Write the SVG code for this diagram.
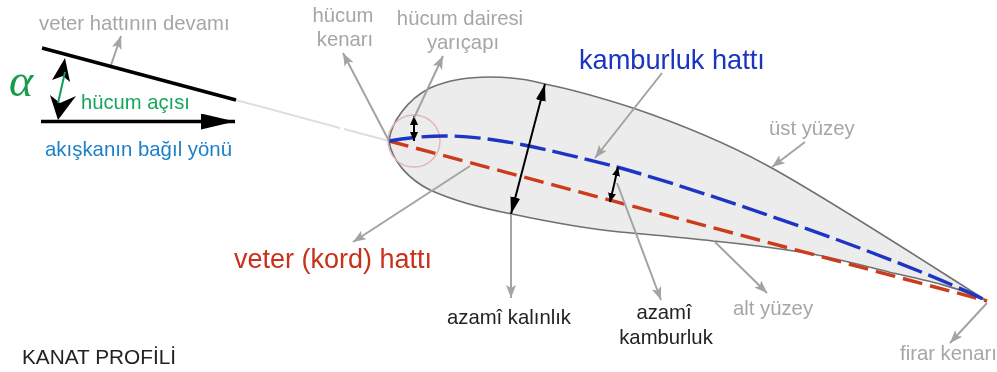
<svg xmlns="http://www.w3.org/2000/svg" width="997" height="372" viewBox="0 0 997 372">
<style>
text{font-family:"Liberation Sans",Arial,sans-serif}
.g{fill:#a6a6a6;font-size:20.3px}
.k{fill:#222;font-size:20.3px}
.m{text-anchor:middle}
.lead{fill:none;stroke:#a3a3a3;stroke-width:2}
.blk{fill:none;stroke:#000;stroke-width:2}
.red{fill:none;stroke:#cc3a1c;stroke-width:3.4;stroke-dasharray:20 8}
.blue{fill:none;stroke:#1c35c4;stroke-width:3.4;stroke-dasharray:26 7}
</style>
<defs>
<marker id="ga" markerUnits="userSpaceOnUse" markerWidth="14" markerHeight="12" refX="13" refY="5" orient="auto"><path d="M0 0L13 5L0 10L3 5Z" fill="#a3a3a3"/></marker>
<marker id="ka" markerUnits="userSpaceOnUse" markerWidth="18" markerHeight="12" refX="17" refY="5" orient="auto"><path d="M0 0L17 5L0 10Z" fill="#000"/></marker>
<marker id="kb" markerUnits="userSpaceOnUse" markerWidth="36" markerHeight="20" refX="34" refY="8" orient="auto"><path d="M0 0L34 8L0 16Z" fill="#000"/></marker>
<marker id="ks" markerUnits="userSpaceOnUse" markerWidth="10" markerHeight="10" refX="9" refY="4" orient="auto"><path d="M0 0L9 4L0 8Z" fill="#000"/></marker>
<filter id="soft" x="0" y="0" width="100%" height="100%"><feGaussianBlur stdDeviation="0.55"/></filter>
</defs>
<g filter="url(#soft)">
<g id="profile">
<path d="M389 141C391 122 408 99 430 88C450 79 470 77 490 77C510 77 530 80 545 84C575 90 605 99 633 108C680 124 725 142 770 167C830 200 930 265 987 301C960 288 930 281 893 273C865 266 835 258 807 253C775 248 745 244 713 241C680 237 650 235 620 232C580 228 545 221 512 214C480 208 450 199 430 190C410 180 392 162 389 141Z" fill="#ececec" stroke="#707070" stroke-width="1.6"/>
<circle cx="414" cy="141" r="26" fill="none" stroke="#e3b5b5" stroke-width="1.4"/>
</g>
<g id="connectors">
<path d="M236 100L340 128M344 129L389 141" fill="none" stroke="#dedede" stroke-width="2"/>
<path class="red" d="M389 141L987 301"/>
<path class="blue" d="M389 141C405 138 425 136 445 136C500 136 560 153 617 167C700 190 900 258 987 301"/>
<path class="blk" marker-end="url(#ka)" d="M528 149L545 84"/>
<path class="blk" marker-end="url(#ka)" d="M528 149L511 214"/>
<path class="blk" marker-end="url(#ks)" d="M414 128L414 116"/>
<path class="blk" marker-end="url(#ks)" d="M414 128L414 141"/>
<path class="blk" marker-end="url(#ks)" d="M614 185L618 167"/>
<path class="blk" marker-end="url(#ks)" d="M614 185L610 202"/>
<path class="lead" marker-end="url(#ga)" d="M389 141L343 53"/>
<path class="lead" marker-end="url(#ga)" d="M414 118L443 56"/>
<path class="lead" marker-end="url(#ga)" d="M470 166L353 242"/>
<path class="lead" marker-end="url(#ga)" d="M511 214L511 298"/>
<path class="lead" marker-end="url(#ga)" d="M662 73L595 158"/>
<path class="lead" marker-end="url(#ga)" d="M617 183L661 300"/>
<path class="lead" marker-end="url(#ga)" d="M805 142L772 167"/>
<path class="lead" marker-end="url(#ga)" d="M715 242L767 293"/>
<path class="lead" marker-end="url(#ga)" d="M987 303L950 343"/>
<path class="lead" marker-end="url(#ga)" d="M111 65L121 36"/>
<path d="M42 48L236 100" fill="none" stroke="#000" stroke-width="3.4"/>
<path d="M41 121.500L235 121.500" fill="none" stroke="#000" stroke-width="3.4" marker-end="url(#kb)"/>
<path d="M65 58L52 80L63 76L70 82Z" fill="#000"/>
<path d="M58 120L50 95L60 103L76 96Z" fill="#000"/>
<path d="M65 72L58 103" fill="none" stroke="#0f9d58" stroke-width="2"/>
</g>
<g id="labels">
<text class="g" x="39" y="30">veter hattının devamı</text>
<text x="9" y="96" fill="#1a9a4b" font-size="46" font-style="italic" style="font-family:'Liberation Serif',serif">α</text>
<text x="81" y="109" fill="#12a85a" font-size="20.200">hücum açısı</text>
<text x="45" y="156" fill="#1d7fc9" font-size="20.400">akışkanın bağıl yönü</text>
<text class="g m" x="343" y="22">hücum</text>
<text class="g m" x="345" y="46">kenarı</text>
<text class="g m" x="460" y="25">hücum dairesi</text>
<text class="g m" x="463" y="49">yarıçapı</text>
<text x="579" y="69" fill="#1a35c0" font-size="27.200">kamburluk hattı</text>
<text x="234" y="268" fill="#c8301a" font-size="27">veter (kord) hattı</text>
<text class="k" x="447" y="324">azamî kalınlık</text>
<text class="k m" x="664" y="319">azamî</text>
<text class="k m" x="666" y="344">kamburluk</text>
<text class="g" x="769" y="135">üst yüzey</text>
<text class="g" x="733" y="315">alt yüzey</text>
<text class="g" x="900" y="360">firar kenarı</text>
<text x="22" y="364" fill="#222" font-size="20.800">KANAT PROFİLİ</text>
</g>
</g>
</svg>
